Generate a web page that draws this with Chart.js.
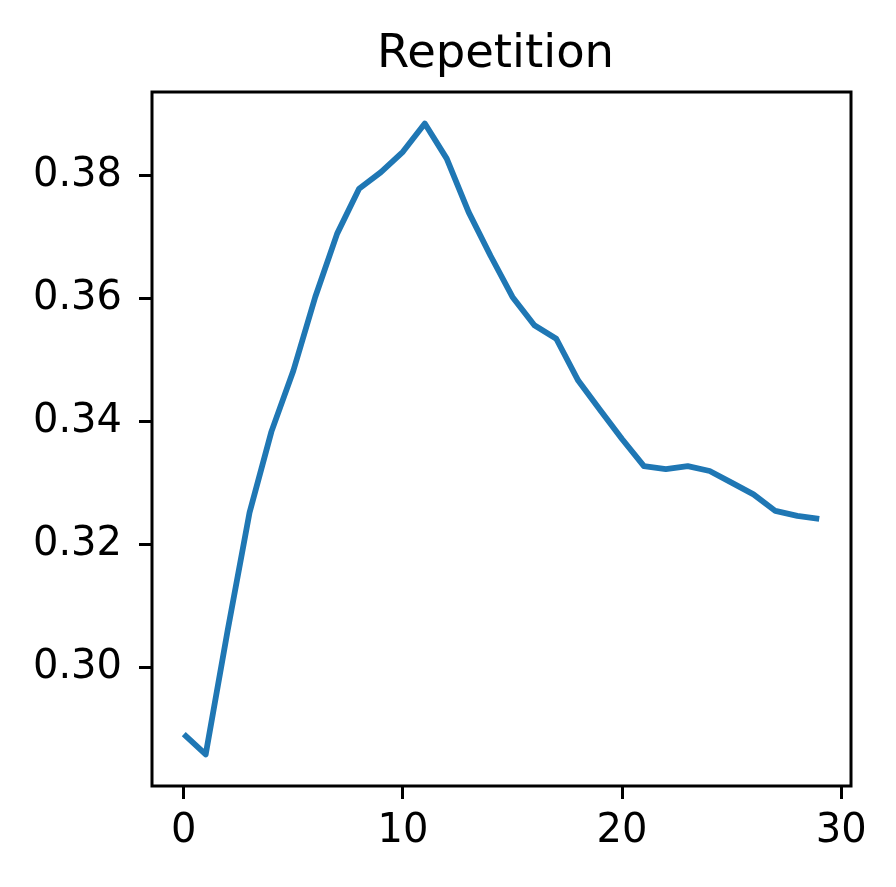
<!DOCTYPE html>
<html>
<head>
<meta charset="utf-8">
<script src="https://cdn.jsdelivr.net/npm/chart.js@4/dist/chart.umd.min.js"></script>
<style>
  html, body { margin: 0; padding: 0; background: #ffffff; }
  #wrap { width: 896px; height: 887px; }
</style>
</head>
<body>
<div id="wrap"><canvas id="c" width="896" height="887"></canvas></div>
<script>
const chartTitle = "Repetition";
const steps = [0, 1, 2, 3, 4, 5, 6, 7, 8, 9, 10, 11, 12, 13, 14, 15, 16, 17, 18, 19, 20, 21, 22, 23, 24, 25, 26, 27, 28, 29];
const repetition = [0.2891, 0.2858, 0.3059, 0.3251, 0.3383, 0.3482, 0.3602, 0.3705, 0.3778, 0.3805,
                    0.3838, 0.3884, 0.3827, 0.3740, 0.3669, 0.3602, 0.3556, 0.3534, 0.3466, 0.3418,
                    0.3371, 0.3327, 0.3322, 0.3327, 0.3319, 0.3300, 0.3281, 0.3254, 0.3246, 0.3241];
const xTicks = [0, 10, 20, 30];
const yTicks = [0.30, 0.32, 0.34, 0.36, 0.38];

const FONT = "'DejaVu Sans', 'Liberation Sans', sans-serif";

// matplotlib-style 5% margins
const xMinD = Math.min(...steps), xMaxD = Math.max(...steps);
const yMinD = Math.min(...repetition), yMaxD = Math.max(...repetition);
const xPad = (xMaxD - xMinD) * 0.05, yPad = (yMaxD - yMinD) * 0.05;

const framePlugin = {
  id: 'frame',
  afterDraw(chart) {
    const ctx = chart.ctx, a = chart.chartArea;
    ctx.save();
    ctx.strokeStyle = '#000000';
    ctx.lineWidth = 3;
    ctx.strokeRect(a.left, a.top, a.right - a.left, a.bottom - a.top);
    ctx.fillStyle = '#000000';
    ctx.font = "46.5px " + FONT;
    ctx.textAlign = 'center';
    ctx.textBaseline = 'alphabetic';
    ctx.fillText(chartTitle, (a.left + a.right) / 2 - 6, 67);
    ctx.restore();
  }
};

new Chart(document.getElementById('c'), {
  type: 'line',
  data: {
    datasets: [{
      label: chartTitle,
      data: steps.map((s, i) => ({ x: s, y: repetition[i] })),
      borderColor: '#1f77b4',
      borderWidth: 5.8,
      pointRadius: 0,
      fill: false,
      tension: 0,
      borderJoinStyle: 'round',
      borderCapStyle: 'butt'
    }]
  },
  options: {
    responsive: false,
    animation: false,
    devicePixelRatio: 1,
    layout: { padding: { left: 0, right: 45, top: 92, bottom: 0 } },
    plugins: { legend: { display: false }, title: { display: false }, tooltip: { enabled: false } },
    scales: {
      x: {
        type: 'linear',
        min: xMinD - xPad,
        max: xMaxD + xPad,
        afterBuildTicks: s => { s.ticks = xTicks.map(v => ({ value: v })); },
        afterFit: s => { s.height = 101; },
        grid: { drawOnChartArea: false, drawTicks: true, tickLength: 13, tickWidth: 3, color: '#000000', lineWidth: 3 },
        border: { display: false },
        ticks: { color: '#000000', font: { family: FONT, size: 40 }, padding: 9, maxRotation: 0, autoSkip: false,
                 callback: v => String(v) }
      },
      y: {
        type: 'linear',
        min: yMinD - yPad,
        max: yMaxD + yPad,
        afterBuildTicks: s => { s.ticks = yTicks.map(v => ({ value: v })); },
        afterFit: s => { s.width = 152; },
        grid: { drawOnChartArea: false, drawTicks: true, tickLength: 13, tickWidth: 3, color: '#000000', lineWidth: 3 },
        border: { display: false },
        ticks: { color: '#000000', font: { family: FONT, size: 40 }, padding: 17, autoSkip: false,
                 callback: v => Number(v).toFixed(2) }
      }
    }
  },
  plugins: [framePlugin]
});
</script>
</body>
</html>
